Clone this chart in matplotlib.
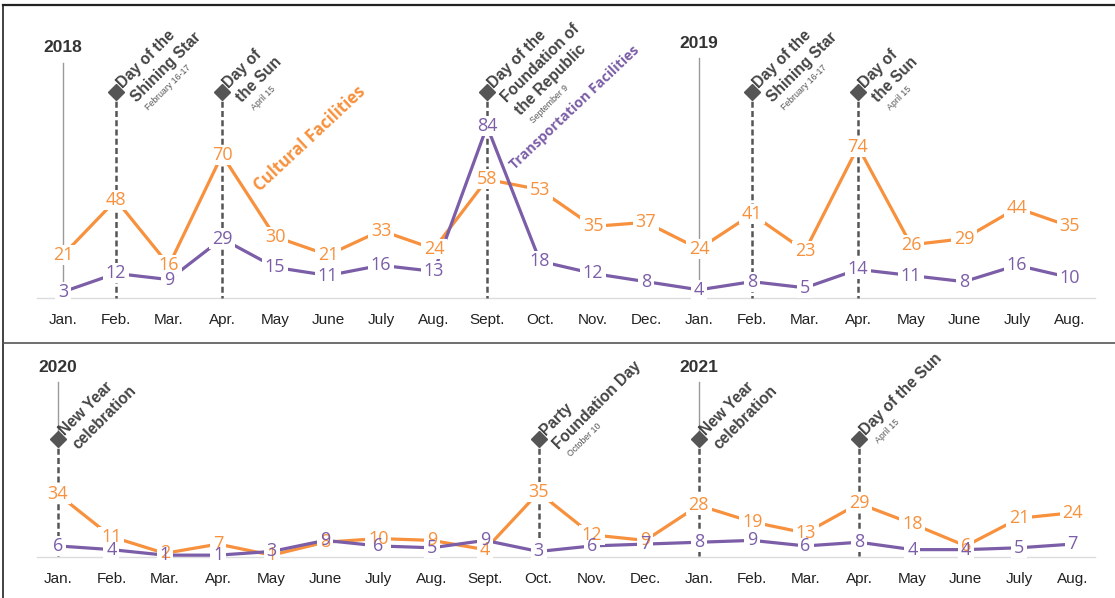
import math
import matplotlib
matplotlib.use("Agg")
import matplotlib.pyplot as plt
from matplotlib.lines import Line2D
from matplotlib.path import Path

W, H = 1115, 598
ORANGE = "#F7913D"
PURPLE = "#7B5EA7"
DARK = "#444444"
GREY_TXT = "#555555"

months = ["Jan.", "Feb.", "Mar.", "Apr.", "May", "June", "July", "Aug.", "Sept.", "Oct.",
          "Nov.", "Dec.", "Jan.", "Feb.", "Mar.", "Apr.", "May", "June", "July", "Aug."]

# 2018 Jan - 2019 Aug
cultural_a = [21, 48, 16, 70, 30, 21, 33, 24, 58, 53, 35, 37, 24, 41, 23, 74, 26, 29, 44, 35]
transport_a = [3, 12, 9, 29, 15, 11, 16, 13, 84, 18, 12, 8, 4, 8, 5, 14, 11, 8, 16, 10]
years_a = [(0, "2018"), (12, "2019")]
events_a = [
    (1, ["Day of the", "Shining Star"], "February 16-17"),
    (3, ["Day of", "the Sun"], "April 15"),
    (8, ["Day of the", "Foundation of", "the Republic"], "September 9"),
    (13, ["Day of the", "Shining Star"], "February 16-17"),
    (15, ["Day of", "the Sun"], "April 15"),
]

# 2020 Jan - 2021 Aug
cultural_b = [34, 11, 2, 7, 1, 8, 10, 9, 4, 35, 12, 9, 28, 19, 13, 29, 18, 6, 21, 24]
transport_b = [6, 4, 1, 1, 3, 9, 6, 5, 9, 3, 6, 7, 8, 9, 6, 8, 4, 4, 5, 7]
years_b = [(0, "2020"), (12, "2021")]
events_b = [
    (0, ["New Year", "celebration"], None),
    (9, ["Party", "Foundation Day"], "October 10"),
    (12, ["New Year", "celebration"], None),
    (15, ["Day of the Sun"], "April 15"),
]

# white rectangles that cut the lines behind the value labels
def rect(hw, hh):
    return Path([(-hw, -hh), (hw, -hh), (hw, hh), (-hw, hh), (-hw, -hh)], closed=True)

KNOCK_1 = rect(0.4, 0.5)     # one digit
KNOCK_2 = rect(0.5, 0.37)    # two digits

fig = plt.figure(figsize=(W / 100, H / 100), dpi=100)


def make_panel(top_px, bot_px, x0_px, step_px, base_px, scale_px):
    ax = fig.add_axes([0, 1 - bot_px / H, 1, (bot_px - top_px) / H])
    ax.set_xlim(-x0_px / step_px, (W - x0_px) / step_px)
    ax.set_ylim((base_px - bot_px) / scale_px, (base_px - top_px) / scale_px)
    ax.axis("off")
    xpx = lambda px: (px - x0_px) / step_px
    ypx = lambda py: (base_px - py) / scale_px
    return ax, xpx, ypx


def event_label(ax, x, y, lines, sub):
    c = math.cos(math.radians(45))
    bx, by = 5.0, 2.0
    ls = 13.8
    for k, line in enumerate(lines):
        ax.annotate(line, (x, y), xytext=(bx + k * ls * c, by - k * ls * c),
                    textcoords="offset points", rotation=45, rotation_mode="anchor",
                    ha="left", va="baseline", fontsize=11.2, fontweight="bold",
                    color=DARK, family="Liberation Sans", zorder=7)
    if sub:
        d = (len(lines) - 1) * ls + 10
        ax.annotate(sub, (x, y), xytext=(bx + d * c + 2.5 * c, by - d * c + 2.5 * c),
                    textcoords="offset points", rotation=45, rotation_mode="anchor",
                    ha="left", va="baseline", fontsize=6.3, color=GREY_TXT,
                    family="Liberation Sans", zorder=7)


def draw_panel(ax, xpx, ypx, cult, trans, years, events, year_py, line_py, diamond_py, tick_py):
    xs = list(range(len(months)))
    ax.plot([xpx(37), xpx(1095)], [0, 0], color="#dcdcdc", lw=1, zorder=1)
    ev_idx = [e[0] for e in events]
    yd = ypx(diamond_py)

    for (i, label), ty, ly in zip(years, year_py, line_py):
        ax.text(i, ypx(ty), label, ha="center", va="center", fontsize=12.5,
                fontweight="bold", color="#333333", family="Liberation Sans")
        bottom = yd if i in ev_idx else 0
        ax.plot([i, i], [ypx(ly), bottom], color="#9a9a9a", lw=1, zorder=1)

    for i, lines, sub in events:
        ax.plot([i, i], [yd, 0], color="#555555", lw=1.8, ls=(0, (2.4, 1.3)), zorder=2)
        ax.plot([i], [yd], marker="D", ms=8, color="#555555", zorder=3)
        event_label(ax, i, yd, lines, sub)

    ax.plot(xs, cult, color=ORANGE, lw=2.3, zorder=3)
    ax.plot(xs, trans, color=PURPLE, lw=2.3, zorder=4)

    for series in (cult, trans):
        one = [(x, v) for x, v in zip(xs, series) if v < 10]
        two = [(x, v) for x, v in zip(xs, series) if v >= 10]
        if one:
            ax.scatter([p[0] for p in one], [p[1] for p in one], marker=KNOCK_1, s=207,
                       color="white", linewidths=0, zorder=5)
        if two:
            ax.scatter([p[0] for p in two], [p[1] for p in two], marker=KNOCK_2, s=377,
                       color="white", linewidths=0, zorder=5)

    for x, v in zip(xs, cult):
        ax.text(x, v, str(v), ha="center", va="center", fontsize=13, color=ORANGE,
                family="Open Sans", zorder=6)
    for x, v in zip(xs, trans):
        ax.text(x, v, str(v), ha="center", va="center", fontsize=13, color=PURPLE,
                family="Open Sans", zorder=6)
    for x, m in zip(xs, months):
        ax.text(x, ypx(tick_py), m, ha="center", va="center", fontsize=11,
                color="#222222", family="Liberation Sans")


ax1, xp1, yp1 = make_panel(5, 343, 63, 53.0, 298, 2.045)
draw_panel(ax1, xp1, yp1, cultural_a, transport_a, years_a, events_a,
           year_py=[48, 43], line_py=[63, 58], diamond_py=92, tick_py=320)
ax1.text(xp1(260), yp1(192), "Cultural Facilities", rotation=43, rotation_mode="anchor",
         ha="left", va="baseline", fontsize=12, fontweight="bold", color=ORANGE,
         family="Open Sans", zorder=7)
ax1.text(xp1(515), yp1(170), "Transportation Facilities", rotation=43.5, rotation_mode="anchor",
         ha="left", va="baseline", fontsize=10.2, fontweight="bold", color=PURPLE,
         family="Open Sans", zorder=7)

ax2, xp2, yp2 = make_panel(343, 598, 58, 53.4, 557, 1.845)
draw_panel(ax2, xp2, yp2, cultural_b, transport_b, years_b, events_b,
           year_py=[367, 367], line_py=[382, 382], diamond_py=439, tick_py=579)

# frame lines
fig.add_artist(Line2D([3 / W, 1], [1 - 5 / H, 1 - 5 / H], transform=fig.transFigure,
                      color="#222222", lw=1.6))
fig.add_artist(Line2D([3 / W, 3 / W], [0, 1 - 5 / H], transform=fig.transFigure,
                      color="#222222", lw=1.2))
fig.add_artist(Line2D([3 / W, 1], [1 - 343 / H, 1 - 343 / H], transform=fig.transFigure,
                      color="#555555", lw=1.2))

fig.savefig("out.png", dpi=100, facecolor="white")
